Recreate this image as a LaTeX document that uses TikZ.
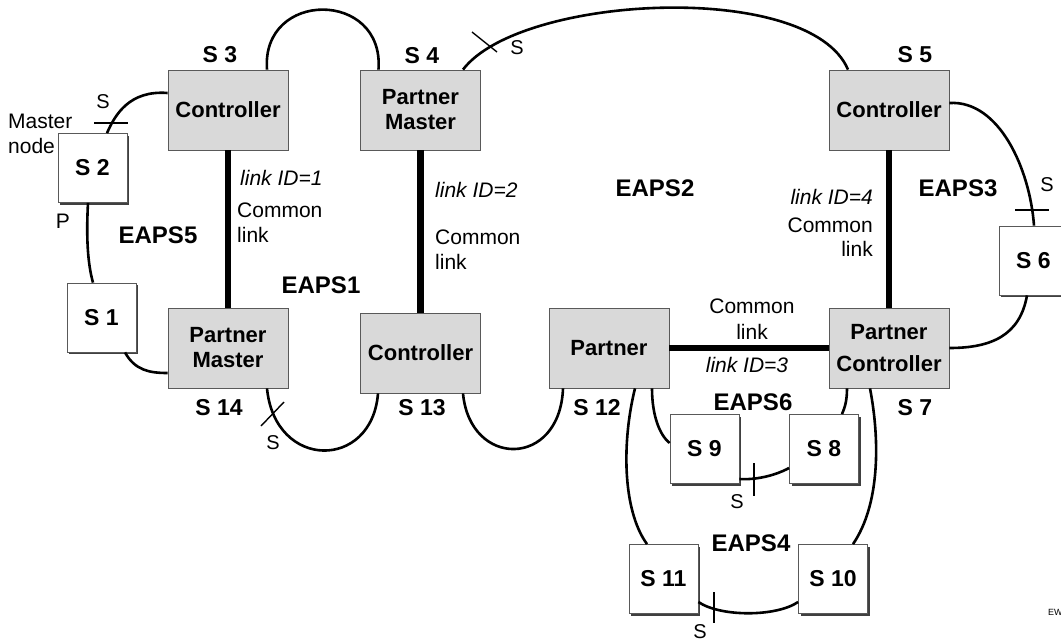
\documentclass[tikz,border=0pt]{standalone}
\usepackage{fontspec}
\setmainfont{Liberation Sans}
\usetikzlibrary{shadows}
\begin{document}
\begin{tikzpicture}[x=1pt,y=-1pt,
 gbox/.style={draw=black!65, line width=0.8pt, fill=black!15, minimum width=120pt, minimum height=80pt, inner sep=0pt, align=center, font=\bfseries\fontsize{22}{25}\selectfont},
 wbox/.style={draw=black!65, line width=0.8pt, fill=white, minimum width=69pt, minimum height=69pt, inner sep=0pt, font=\bfseries\fontsize{23}{26}\selectfont, drop shadow={shadow xshift=2.2pt, shadow yshift=-2.2pt, fill=black!75, opacity=1}},
 lbl/.style={font=\bfseries\fontsize{23}{26}\selectfont, inner sep=0pt},
 eaps/.style={font=\bfseries\fontsize{24}{28}\selectfont, inner sep=0pt},
 txt/.style={font=\fontsize{21}{25}\selectfont, inner sep=0pt},
 itxt/.style={font=\itshape\fontsize{21}{25}\selectfont, inner sep=0pt},
 sl/.style={font=\fontsize{20}{24}\selectfont, inner sep=0pt},
 ring/.style={line width=2.6pt},
 common/.style={line width=6.5pt},
 tickm/.style={line width=1.4pt}]
\useasboundingbox[fill=white] (0,0) rectangle (1061,643);

% gray boxes
\node[gbox] (S3)  at (228,110)   {Controller};
\node[gbox] (S4)  at (420.5,110) {Partner\\Master};
\node[gbox] (S5)  at (889,110)   {Controller};
\node[gbox] (S14) at (228,348)   {Partner\\Master};
\node[gbox] (S13) at (420.5,353) {Controller};
\node[gbox] (S12) at (609,348)   {Partner};
\node[gbox] (S7)  at (889,348)   {Partner\\[7pt]Controller};

% white boxes
\node[wbox] (S2)  at (92.5,168)    {S 2};
\node[wbox] (S1)  at (101.5,317.5) {S 1};
\node[wbox] (S6)  at (1033.5,260.5){S 6};
\node[wbox] (S9)  at (704.5,449)   {S 9};
\node[wbox] (S8)  at (824,449)     {S 8};
\node[wbox] (S11) at (663.5,579)   {S 11};
\node[wbox] (S10) at (833,579)     {S 10};

% common links
\draw[common] (S3.south) -- (S14.north);
\draw[common] (S4.south) -- (S13.north);
\draw[common] (S5.south) -- (S7.north);
\draw[common] (S12.east) -- (S7.west);

% ring links
\draw[ring] ([xshift=39pt]S3.north) .. controls +(-6,-80) and +(6,-80) .. ([xshift=-42pt]S4.north);
\draw[ring] ([xshift=42.5pt]S4.north) .. controls +(57,-75) and +(-38,-90) .. ([xshift=-41pt]S5.north);
\draw[ring] ([yshift=17pt]S3.west) .. controls +(-38,-3) and +(8,-18.5) .. ([xshift=14.5pt]S2.north);
\draw[ring] ([xshift=-4.5pt]S2.south) .. controls +(-2,37) and +(-5,-18) .. ([xshift=-8.5pt]S1.north);
\draw[ring] ([xshift=23.5pt]S1.south) .. controls +(10,18) and +(-18,0) .. ([yshift=-25pt]S14.west);
\draw[ring] ([xshift=39pt]S14.south) .. controls +(8,82) and +(-6,77) .. ([xshift=-42.5pt]S13.south);
\draw[ring] ([xshift=42.5pt]S13.south) .. controls +(7,75) and +(-3,80) .. ([xshift=-46pt]S12.south);
\draw[ring] ([xshift=26pt]S12.south) .. controls +(-13,52) and +(-25,-34.5) .. ([xshift=-16.5pt]S11.north);
\draw[ring] ([xshift=-19pt]S7.south) .. controls +(10,52) and +(27,-39.5) .. ([xshift=20pt]S10.north);
\draw[ring] ([xshift=43pt]S12.south) .. controls +(0,27) and +(-10,-8) .. ([yshift=6pt]S9.west);
\draw[ring] ([xshift=-42pt]S7.south) .. controls +(0,12) and +(3,-7) .. ([xshift=18pt]S8.north);
\draw[ring] ([yshift=-30pt]S9.east) .. controls +(16,1) and +(-15,8) .. ([yshift=-19pt]S8.west);
\draw[ring] ([yshift=-23pt]S11.east) .. controls +(22,15) and +(-22,15) .. ([yshift=-23pt]S10.west);
\draw[ring] ([yshift=7pt]S5.east) .. controls +(50,-3) and +(-4,-56) .. ([xshift=0.5pt]S6.north);
\draw[ring] ([xshift=-6.5pt]S6.south) .. controls +(-7,40) and +(42,0) .. (S7.east);

% blocking marks
\draw[tickm] (472,32) -- (497,52);
\draw[tickm] (94,123) -- (128,123);
\draw[tickm] (261,426) -- (284,402);
\draw[tickm] (754,463) -- (754,496);
\draw[tickm] (714,592) -- (714,623);
\draw[tickm] (1015,210) -- (1049,210);
\node[sl] (sA) at (517,48) {S};
\node[sl] (sB) at (103,102) {S};
\node[sl] (sC) at (273,443) {S};
\node[sl] (sD) at (737,502) {S};
\node[sl] (sE) at (700,632) {S};
\node[sl] (sF) at (1047,185) {S};
\node[txt] (pP) at (63,221) {P};

% switch labels
\node[lbl] (l3)  at (220,55)  {S 3};
\node[lbl] (l4)  at (422,56)  {S 4};
\node[lbl] (l5)  at (915,55)  {S 5};
\node[lbl] (l14) at (219,408) {S 14};
\node[lbl] (l13) at (422,408) {S 13};
\node[lbl] (l12) at (597,408) {S 12};
\node[lbl] (l7)  at (915,408) {S 7};

% ring names
\node[eaps] (e1) at (321,285) {EAPS1};
\node[eaps] (e2) at (655,188) {EAPS2};
\node[eaps] (e3) at (958,188) {EAPS3};
\node[eaps] (e4) at (751,543) {EAPS4};
\node[eaps] (e5) at (158,235) {EAPS5};
\node[eaps] (e6) at (753,402) {EAPS6};

% texts
\node[txt, anchor=west] (m1) at (8,121) {Master};
\node[txt, anchor=west] (m2) at (8,146) {node};
\node[itxt, anchor=west] (id1) at (240,178) {link ID=1};
\node[txt, anchor=west] (c1a) at (237,210) {Common};
\node[txt, anchor=west] (c1b) at (237,235) {link};
\node[itxt, anchor=west] (id2) at (435,190) {link ID=2};
\node[txt, anchor=west] (c2a) at (435,237) {Common};
\node[txt, anchor=west] (c2b) at (435,262) {link};
\node[itxt, anchor=east] (id4) at (873,197) {link ID=4};
\node[txt, anchor=east] (c4a) at (873,225) {Common};
\node[txt, anchor=east] (c4b) at (873,249) {link};
\node[txt] (c3a) at (752,306) {Common};
\node[txt] (c3b) at (752,332) {link};
\node[itxt] (id3) at (747,365) {link ID=3};
\node[font=\fontsize{9}{10}\selectfont, inner sep=0pt, anchor=west] (ew) at (1048,612) {EW};
\end{tikzpicture}
\end{document}
